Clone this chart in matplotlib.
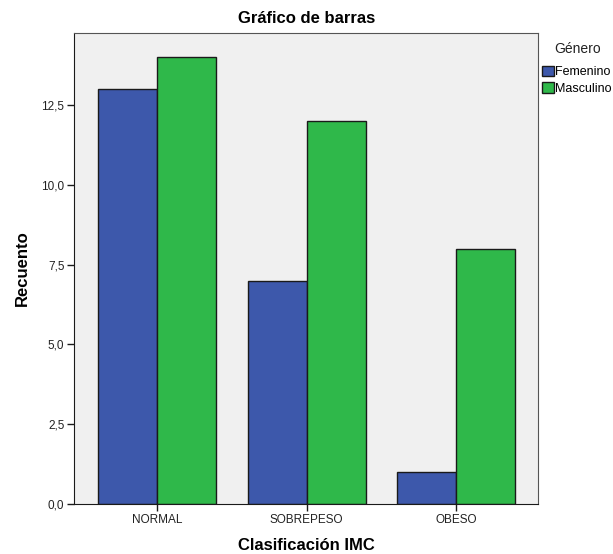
import matplotlib
matplotlib.use("Agg")
import matplotlib.pyplot as plt
import numpy as np

plt.rcParams["font.family"] = ["Liberation Sans", "DejaVu Sans"]

categories = ["NORMAL", "SOBREPESO", "OBESO"]
femenino = [13, 7, 1]
masculino = [14, 12, 8]
yticks = [0.0, 2.5, 5.0, 7.5, 10.0, 12.5]

blue = "#3D58AB"
green = "#2FB84A"

fig = plt.figure(figsize=(6.13, 5.54), dpi=100)
ax = fig.add_axes([0.121, 0.0903, 0.757, 0.850])
ax.set_facecolor("#F0F0F0")

x = np.arange(len(categories))
w = 0.395
ax.bar(x - w / 2, femenino, w, color=blue, edgecolor="#1a1a1a", linewidth=1.0, label="Femenino")
ax.bar(x + w / 2, masculino, w, color=green, edgecolor="#1a1a1a", linewidth=1.0, label="Masculino")

ax.set_xlim(-0.553, 2.547)
ax.set_ylim(0, 14.76)
ax.set_xticks(x)
ax.set_xticklabels(categories, fontsize=8.5)
ax.set_yticks(yticks)
ax.set_yticklabels([f"{v:.1f}".replace(".", ",") for v in yticks], fontsize=8.5)
ax.tick_params(direction="out", length=5, width=1, colors="#1a1a1a", labelcolor="#222222", pad=2)
for s in ax.spines.values():
    s.set_color("#555555")
    s.set_linewidth(0.8)
ax.spines["left"].set_color("#1a1a1a")
ax.spines["bottom"].set_color("#1a1a1a")

ax.set_title("Gráfico de barras", fontsize=12, fontweight="bold", pad=7)
ax.set_xlabel("Clasificación IMC", fontsize=12, fontweight="bold", labelpad=9)
ax.set_ylabel("Recuento", fontsize=12, fontweight="bold", labelpad=8)

leg = ax.legend(loc="upper left", bbox_to_anchor=(0.99, 1.0), frameon=False,
                title="Género", fontsize=9, title_fontsize=10,
                handlelength=0.9, handleheight=0.9, handletextpad=0.15,
                labelspacing=0.35, borderaxespad=0.3)
leg._legend_box.align = "left"
leg._legend_box.sep = 7
leg.get_title().set_color("#222222")
leg.get_title().set_position((12, 0))

fig.savefig("out.png", dpi=100)
